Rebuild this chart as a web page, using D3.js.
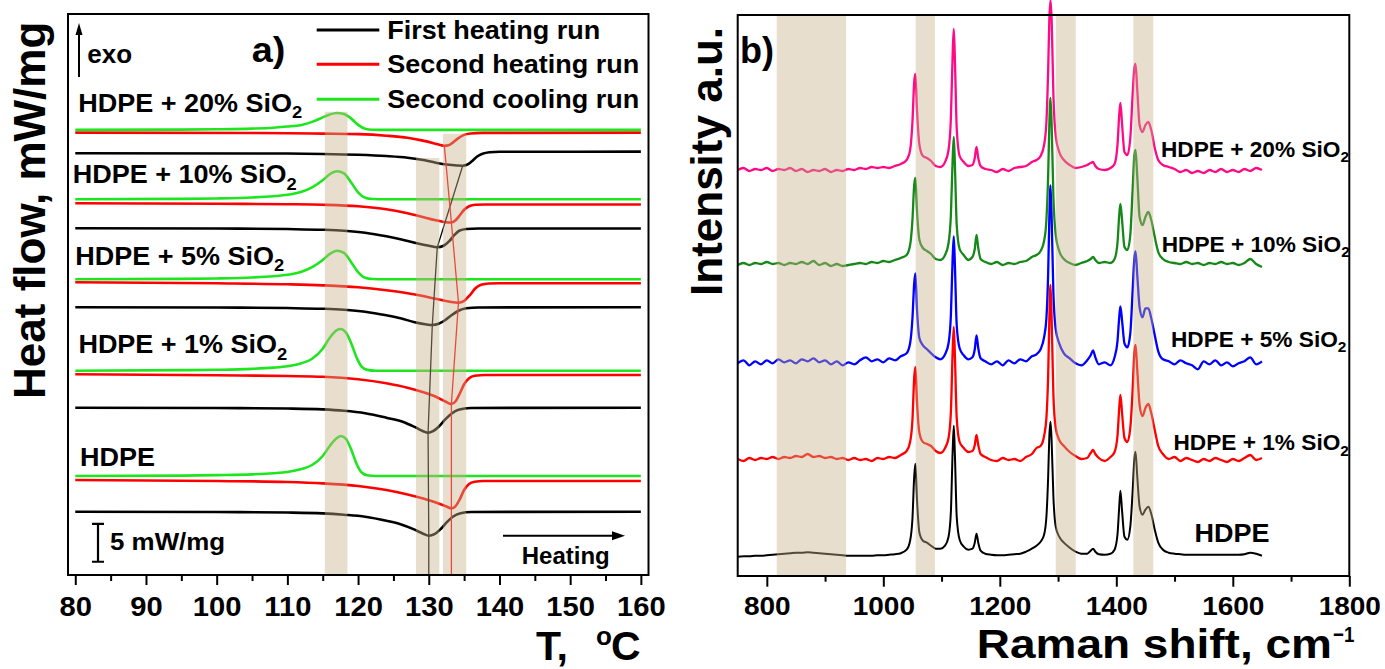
<!DOCTYPE html>
<html>
<head>
<meta charset="utf-8">
<script src="https://cdn.jsdelivr.net/npm/d3@7"></script>
<style>
  body { margin: 0; background: #fff; }
  svg { display: block; font-family: "Liberation Sans", Arial, sans-serif; font-weight: bold; }
</style>
</head>
<body>
<svg id="chart" width="1385" height="669"></svg>
<script>
// ---------- panel a) DSC curves : [T (°C), heat flow (mW/mg, stacked)] ----------
const cool20 = [[80,58.71],[95,58.75],[100,58.79],[105,58.88],[108,59.0],[110,59.15],[112,59.37],[113.5,59.77],[115,60.36],[116,60.75],[117,60.95],[118,60.82],[119,60.23],[120,59.37],[121,58.87],[122,58.74],[124,58.71],[160,58.71]];
const heat2_20 = [[80,58.35],[110,58.28],[115,58.22],[120,58.15],[124,57.95],[127,57.67],[129,57.33],[130.8,56.93],[131.6,56.73],[132.2,56.63],[132.8,56.7],[133.4,57.03],[134.1,57.56],[134.9,58.02],[135.9,58.24],[137.6,58.32],[160,58.35]];
const heat1_20 = [[80,55.63],[110,55.59],[115,55.54],[120,55.43],[124,55.26],[127,55.04],[129,54.77],[131,54.38],[132.5,54.14],[134,54.01],[134.8,53.99],[135.4,54.11],[136.1,54.58],[136.8,55.17],[137.6,55.56],[138.6,55.76],[140,55.83],[160,55.84]];

const cool10 = [[80,49.56],[95,49.61],[100,49.67],[105,49.8],[108,49.96],[110,50.15],[112,50.55],[113.5,51.14],[115,52.07],[116,52.86],[117,53.25],[118,52.99],[119,51.8],[120,50.48],[121,49.76],[122,49.59],[124,49.56],[160,49.56]];
const heat2_10 = [[80,49.04],[100,48.97],[110,48.91],[115,48.84],[120,48.64],[124,48.25],[127,47.72],[129,47.26],[131,46.8],[132.4,46.53],[133.2,46.49],[133.8,46.8],[134.4,47.46],[135,48.18],[135.7,48.64],[136.6,48.84],[138,48.88],[160,48.88]];
const heat1_10 = [[80,45.74],[100,45.7],[110,45.63],[115,45.54],[118,45.41],[121,45.15],[124,44.68],[126,44.29],[128,43.83],[130,43.43],[131.2,43.23],[132.1,43.43],[132.9,44.03],[133.6,44.82],[134.3,45.41],[135.3,45.65],[137,45.7],[160,45.7]];

const cool5 = [[80,39.01],[95,39.06],[100,39.12],[105,39.25],[108,39.41],[110,39.6],[112,40.0],[113.5,40.6],[115,41.55],[116,42.35],[117,42.78],[118,42.5],[119,41.3],[120,39.95],[121,39.2],[122,39.04],[124,39.01],[160,39.01]];
const heat2_5 = [[80,38.61],[100,38.48],[110,38.35],[115,38.21],[120,37.95],[124,37.55],[127,37.16],[129,36.83],[131,36.43],[133,36.04],[134.2,35.92],[135,36.17],[135.8,36.9],[136.6,37.82],[137.4,38.28],[138.5,38.45],[140,38.48],[160,38.48]];
const heat1_5 = [[80,35.32],[100,35.28],[110,35.21],[115,35.12],[118,34.99],[121,34.73],[124,34.26],[126,33.87],[128,33.34],[129.5,33.08],[130.5,32.98],[131.4,33.14],[132.3,33.6],[133.2,34.26],[134.2,34.86],[135.3,35.19],[137,35.29],[160,35.32]];

const cool1 = [[80,26.95],[95,27.02],[100,27.07],[105,27.19],[108,27.35],[110,27.54],[112,27.94],[113.5,28.53],[115,29.85],[116,31.3],[117,32.29],[117.5,32.45],[118.3,31.96],[119,30.64],[119.8,28.67],[120.5,27.48],[121.3,27.06],[122.5,26.95],[160,26.95]];
const heat2_1 = [[80,26.48],[100,26.35],[110,26.24],[115,26.15],[120,25.82],[124,25.29],[127,24.7],[129,24.17],[131,23.51],[132.4,22.85],[133.2,22.56],[133.8,22.92],[134.4,23.97],[135,25.16],[135.7,25.95],[136.5,26.28],[138,26.39],[160,26.39]];
const heat1_1 = [[80,22.07],[100,22.03],[110,21.96],[115,21.85],[118,21.67],[121,21.34],[124,20.75],[126.3,20.22],[128.2,19.43],[129.2,18.97],[129.9,18.77],[130.6,18.97],[131.4,19.56],[132.3,20.49],[133.2,21.28],[134.2,21.81],[135.9,22.03],[160,22.07]];

const coolH = [[80,13.06],[95,13.11],[100,13.17],[105,13.27],[108,13.42],[110,13.59],[112,13.98],[113.5,14.51],[115,15.7],[116,17.02],[117,18.07],[117.6,18.34],[118.3,17.94],[119,16.62],[119.8,14.64],[120.5,13.52],[121.3,13.15],[122.5,13.06],[160,13.06]];
const heat2_H = [[80,12.53],[100,12.4],[110,12.27],[115,12.09],[120,11.74],[124,11.21],[127,10.62],[129.2,10.09],[131.2,9.5],[132.5,9.03],[133.2,8.8],[133.8,9.1],[134.4,10.02],[135,11.21],[135.7,12.0],[136.5,12.29],[137.7,12.4],[160,12.4]];
const heat1_H = [[80,8.35],[100,8.31],[110,8.24],[115,8.13],[118,7.95],[121,7.69],[124,7.16],[126,6.7],[128,5.98],[129.2,5.45],[130,5.18],[130.8,5.38],[131.6,5.98],[132.5,6.9],[133.4,7.69],[134.5,8.15],[136,8.31],[160,8.35]];

// peak trend lines through the melting minima
const trendFirst = [[134.8,53.99],[131.2,43.23],[130.5,32.98],[129.9,18.77],[130,5.18],[130,0]];
const trendSecond = [[132.2,56.63],[133.2,46.49],[134.2,35.92],[133.2,22.56],[133.2,8.8],[133.2,0]];

// shaded T ranges [from, to, top of band]
const bandsA = [[115.3,118.5,61.1],[128.2,131.5,55.0],[132.0,135.3,58.2]];

const tTicks = [80,90,100,110,120,130,140,150,160];
const tMinor = [85,95,105,115,125,135,145,155];
const legendNames = ['First heating run','Second heating run','Second cooling run'];
const dscColors = ['#000000','#ff0000','#1ee61e'];

// ---------- panel b) Raman spectra ----------
const ramanShift = [750,760,770,780,790,800,810,820,830,840,850,860,870,880,890,900,910,920,930,940,950,960,970,980,990,1000,1010,1020,1030,
  1040,1046,1050,1053,1055,1058,1062,1068,1075,1082,1090,1098,1106,1112,1116,1119,1121,1123,1126,1131,1138,1146,1153,1157,1160,1163,1167,1175,
  1185,1195,1205,1215,1225,1235,1245,1255,
  1263,1270,1276,1280,1283,1285,1287,1289,1292,1296,1302,1310,1320,
  1330,1340,1350,1356,1360,1364,1370,1380,1390,1397,1402,1405,1407,1410,1414,1419,1424,1428,1431,1433,1436,1440,1445,1450,1455,1460,1466,1472,1480,1490,
  1500,1510,1520,1530,1540,1550,1560,1570,1580,1590,1600,1610,1620,1630,1640,1650];

const ramanHDPE = [0,0.5,0.5,1,1,1.5,2,2.5,3,3.5,4,4,4.5,4,3.5,3,2.5,2,1.5,1,1,1,1,1,1.5,1.5,2,2.5,3.5,
  7,16,38,80,93,55,24,16,14,11,8,8,11,20,45,105,131,100,40,17,10,7,8,14,23,14,6,3,
  2,1.5,1.5,2,2.5,3,5,8,
  11,15,22,40,80,120,135,115,60,30,20,14,9,
  5,3,3,6,8,5,2.5,2,3,7,22,50,66,45,20,17,30,65,98,105,80,50,42,47,50,43,27,14,7,4,
  3,2.5,2,2,2,2,2,2,2,2,2,2,2.5,4,3,1];
const raman1 = [1,-1,2,0,2,1,3,1,3,2,4,3,6,3,4,2,3,1,2,0,2,0,1,-1,2,1,3,2,5,
  9,18,40,82,93,56,27,18,16,14,9,7,12,22,48,108,133,102,42,18,12,8,9,15,25,15,6,3,
  0,-1,2,0,1,-1,3,6,
  12,14,24,42,85,140,175,140,65,32,20,14,8,
  4,1,2,7,10,6,2,-1,3,8,24,52,65,46,22,18,32,70,108,115,90,55,44,52,56,47,30,14,6,1,
  3,-1,2,0,-2,1,-1,2,0,-2,1,-1,2,5,0,2];
const raman5 = [0,3,-2,2,-1,3,0,4,1,3,0,4,2,5,1,3,-1,2,-2,1,-1,3,6,2,4,1,5,3,7,
  10,20,45,80,90,52,25,18,14,10,6,4,9,20,48,105,127,96,38,15,8,4,6,14,28,15,5,2,
  -1,2,-2,3,0,4,2,7,
  9,14,26,45,90,145,178,145,70,34,20,10,5,
  0,-2,3,8,13,6,-1,1,-2,6,22,46,57,42,20,16,30,72,105,112,88,56,46,55,55,45,28,12,4,2,
  -1,3,0,-2,-6,2,-1,3,-2,1,-3,0,2,6,-1,2];
const raman10 = [0,2,0,2,1,3,1,2,0,2,1,3,1,4,0,2,-1,1,-1,0,1,2,1,3,2,4,3,5,7,
  10,20,45,80,87,52,25,17,14,11,6,5,10,22,50,105,128,98,40,16,10,5,8,16,30,17,6,3,
  1,3,0,2,1,3,4,8,
  10,14,24,45,90,140,167,140,68,30,14,6,2,
  0,2,4,6,8,5,2,3,2,6,22,50,61,44,18,15,30,75,110,115,88,48,40,48,53,45,28,13,6,3,
  2,1,3,1,2,0,2,1,3,1,2,0,2,6,1,-2];
const raman20 = [0,2,-1,1,0,2,-1,1,0,2,-1,1,-2,0,-1,1,-2,0,-1,1,0,2,1,3,2,3,2,4,6,
  10,20,48,88,96,58,25,14,12,9,4,3,8,20,52,115,141,108,42,14,8,4,5,12,23,12,4,1,
  0,-2,1,-1,2,3,4,8,
  10,14,25,48,100,150,170,150,75,34,18,10,5,
  2,3,5,7,8,4,1,0,2,6,25,55,67,45,18,15,32,75,102,106,80,45,38,45,48,40,22,10,5,3,
  1,-2,0,-3,-1,-3,0,-2,1,-2,0,-2,1,-1,2,0];

const ramanOffsets = [19.3, 116, 212.7, 311, 406];
const ramanColors = ['#000000','#ff0000','#0000ff','#16881a','#ff0a86'];
const bandsB = [[817,936],[1055.6,1088.7],[1296,1330.3],[1429.2,1463.5]];
const rTicks = [800,1000,1200,1400,1600,1800];
const rMinor = [900,1100,1300,1500,1700];

const svg = d3.select('#chart');
const bandFill = '#c9b08a';

function label(x, y, size, sx, main, sub) {
  const t = svg.append('text')
    .attr('transform', `translate(${x},${y}) scale(${sx},1)`)
    .attr('font-size', size);
  t.append('tspan').text(main);
  if (sub) t.append('tspan').text(sub).attr('font-size', size * 0.68).attr('dy', size * 0.25);
  return t;
}

// ================= panel a =================
const xA = d3.scaleLinear().domain([78.97, 161.08]).range([68, 648.5]);
const yA = d3.scaleLinear().domain([0, 74]).range([575, 14]);
const lineA = d3.line().x(d => xA(d[0])).y(d => yA(d[1])).curve(d3.curveMonotoneX);

const dscCurves = [
  [heat1_H, 0], [heat2_H, 1], [coolH, 2],
  [heat1_1, 0], [heat2_1, 1], [cool1, 2],
  [heat1_5, 0], [heat2_5, 1], [cool5, 2],
  [heat1_10, 0], [heat2_10, 1], [cool10, 2],
  [heat1_20, 0], [heat2_20, 1], [cool20, 2]
];

svg.append('g').selectAll('path')
  .data(dscCurves)
  .join('path')
  .attr('d', d => lineA(d[0]))
  .attr('fill', 'none')
  .attr('stroke', d => dscColors[d[1]])
  .attr('stroke-width', 2.6);

const trendLine = d3.line().x(d => xA(d[0])).y(d => yA(d[1]));
svg.append('path').attr('d', trendLine(trendFirst)).attr('fill', 'none').attr('stroke', '#000').attr('stroke-width', 1.3);
svg.append('path').attr('d', trendLine(trendSecond)).attr('fill', 'none').attr('stroke', '#ff0000').attr('stroke-width', 1.3);

svg.append('g').selectAll('rect')
  .data(bandsA)
  .join('rect')
  .attr('x', d => xA(d[0]))
  .attr('width', d => xA(d[1]) - xA(d[0]))
  .attr('y', d => yA(d[2]))
  .attr('height', d => yA(0) - yA(d[2]))
  .attr('fill', bandFill)
  .attr('opacity', 0.42);

svg.append('rect')
  .attr('x', xA.range()[0]).attr('y', yA.range()[1])
  .attr('width', xA.range()[1] - xA.range()[0])
  .attr('height', yA.range()[0] - yA.range()[1])
  .attr('fill', 'none').attr('stroke', '#000').attr('stroke-width', 2);

const axA = svg.append('g').attr('transform', `translate(0,${yA(0)})`)
  .call(d3.axisBottom(xA).tickValues(tTicks).tickSize(10).tickPadding(11.5).tickFormat(d3.format('d')));
axA.select('.domain').remove();
axA.selectAll('line').attr('stroke-width', 2);
axA.attr('font-size', 27).attr('font-family', null);
axA.selectAll('text').attr('transform', 'scale(1.08,1)');

const axAm = svg.append('g').attr('transform', `translate(0,${yA(0)})`)
  .call(d3.axisBottom(xA).tickValues(tMinor).tickSize(6).tickFormat(''));
axAm.select('.domain').remove();
axAm.selectAll('line').attr('stroke-width', 2);

// legend
legendNames.forEach((name, i) => {
  const ly = [30, 64.3, 99.3][i];
  svg.append('line').attr('x1', 316.7).attr('x2', 379.3).attr('y1', ly).attr('y2', ly)
    .attr('stroke', dscColors[i]).attr('stroke-width', 3);
  label(387.3, ly + 8.5, 25, 1.08, name);
});

label(251.7, 61.7, 35, 1.08, 'a)');

// exo arrow
svg.append('line').attr('x1', 79).attr('x2', 79).attr('y1', 77).attr('y2', 33)
  .attr('stroke', '#000').attr('stroke-width', 2);
svg.append('path').attr('d', 'M79,23 L75.5,35 L82.5,35 Z').attr('fill', '#000');
label(87.3, 63.3, 26, 1.0, 'exo');

// sample labels
label(78.3, 111.7, 25, 1.08, 'HDPE + 20% SiO', '2');
label(72.7, 183.3, 25, 1.08, 'HDPE + 10% SiO', '2');
label(75.3, 265, 25, 1.08, 'HDPE + 5% SiO', '2');
label(78.4, 353.3, 25, 1.08, 'HDPE + 1% SiO', '2');
label(80, 465.7, 25, 1.08, 'HDPE');

// scale bar 5 mW/mg
const sb0 = 1.75;
svg.append('path')
  .attr('d', `M92,${yA(sb0)} H104 M98,${yA(sb0)} V${yA(sb0 + 5)} M92,${yA(sb0 + 5)} H104`)
  .attr('stroke', '#000').attr('stroke-width', 2.2).attr('fill', 'none');
label(110, 549.5, 24, 1.08, '5 mW/mg');

// heating arrow
svg.append('line').attr('x1', 503).attr('x2', 614).attr('y1', 535.7).attr('y2', 535.7)
  .attr('stroke', '#000').attr('stroke-width', 2);
svg.append('path').attr('d', 'M625,535.7 L612,531.2 L612,540.2 Z').attr('fill', '#000');
label(521.7, 564, 24, 1.0, 'Heating');

// axis titles a
svg.append('text').attr('transform', 'translate(45,21.7) rotate(-90)')
  .attr('text-anchor', 'end').attr('font-size', 44).text('Heat flow, mW/mg');
label(536, 660, 41, 1.0, 'T,');
label(596, 645, 26, 1.0, 'o');
label(611, 660, 41, 1.0, 'C');

// ================= panel b =================
const xB = d3.scaleLinear().domain([750, 1800]).range([737.7, 1349.3]);
const yB = d3.scaleLinear().domain([0, 561]).range([576, 15]);

const spectra = [ramanHDPE, raman1, raman5, raman10, raman20];
spectra.forEach((s, k) => {
  const ln = d3.line()
    .x((d, i) => xB(ramanShift[i]))
    .y(d => yB(d + ramanOffsets[k]))
    .curve(d3.curveMonotoneX);
  svg.append('path').attr('d', ln(s)).attr('fill', 'none')
    .attr('stroke', ramanColors[k]).attr('stroke-width', k === 0 ? 2 : 2.3);
});

svg.append('g').selectAll('rect')
  .data(bandsB)
  .join('rect')
  .attr('x', d => xB(d[0]))
  .attr('width', d => xB(d[1]) - xB(d[0]))
  .attr('y', yB(561))
  .attr('height', yB(0) - yB(561))
  .attr('fill', bandFill)
  .attr('opacity', 0.42);

svg.append('rect')
  .attr('x', xB.range()[0]).attr('y', yB.range()[1])
  .attr('width', xB.range()[1] - xB.range()[0])
  .attr('height', yB.range()[0] - yB.range()[1])
  .attr('fill', 'none').attr('stroke', '#000').attr('stroke-width', 2);

const axB = svg.append('g').attr('transform', `translate(0,${yB(0)})`)
  .call(d3.axisBottom(xB).tickValues(rTicks).tickSize(10.7).tickPadding(11).tickFormat(d3.format('d')));
axB.select('.domain').remove();
axB.selectAll('line').attr('stroke-width', 2);
axB.attr('font-size', 25).attr('font-family', null);
axB.selectAll('text').attr('transform', 'scale(1.12,1)');

const axBm = svg.append('g').attr('transform', `translate(0,${yB(0)})`)
  .call(d3.axisBottom(xB).tickValues(rMinor).tickSize(5.7).tickFormat(''));
axBm.select('.domain').remove();
axBm.selectAll('line').attr('stroke-width', 2);

label(740, 63.3, 36, 1.0, 'b)');

label(1161, 156.7, 22, 1.03, 'HDPE + 20% SiO', '2');
label(1161.7, 251.7, 22, 1.03, 'HDPE + 10% SiO', '2');
label(1171, 346.7, 22, 1.03, 'HDPE + 5% SiO', '2');
label(1173.5, 450, 22, 1.03, 'HDPE + 1% SiO', '2');
label(1194.5, 541.7, 25, 1.08, 'HDPE');

svg.append('text').attr('transform', 'translate(722,27) rotate(-90)')
  .attr('text-anchor', 'end').attr('font-size', 44).text('Intensity a.u.');

label(976.7, 658, 40, 1.15, 'Raman shift, cm');
label(1333, 642, 22, 0.85, '\u22121');
</script>
</body>
</html>
